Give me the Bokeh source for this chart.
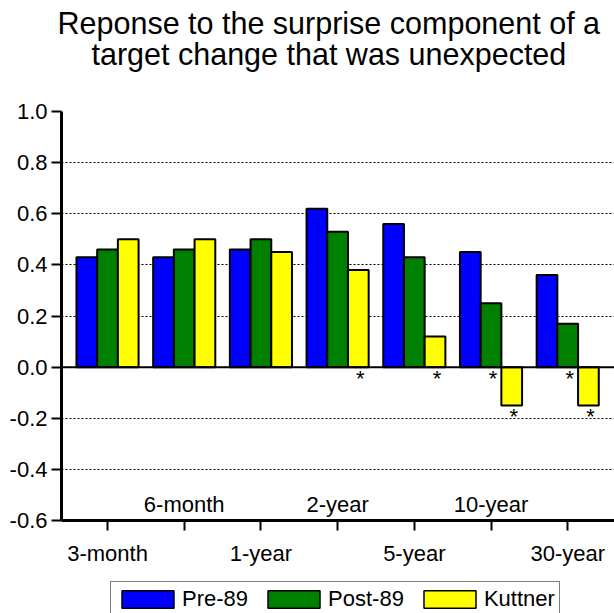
import numpy as np
from bokeh.plotting import figure
from bokeh.layouts import column
from bokeh.models import (Range1d, FixedTicker, NumeralTickFormatter, Span,
                          Legend, LegendItem, ColumnDataSource, Title)
from bokeh.core.properties import value
from bokeh.embed import file_html
from bokeh.resources import INLINE

# ---------------- data ----------------
categories = ["3-month", "6-month", "1-year", "2-year", "5-year", "10-year", "30-year"]
series = ["Pre-89", "Post-89", "Kuttner"]
pre89 = [0.43, 0.43, 0.46, 0.62, 0.56, 0.45, 0.36]
post89 = [0.46, 0.46, 0.50, 0.53, 0.43, 0.25, 0.17]
kuttner = [0.50, 0.50, 0.45, 0.38, 0.12, -0.15, -0.15]
sig_pre89 = [False, False, False, False, False, False, False]
sig_post89 = [False, False, False, False, False, True, True]
sig_kuttner = [False, False, False, True, True, True, True]
y_ticks = [-0.6, -0.4, -0.2, 0.0, 0.2, 0.4, 0.6, 0.8, 1.0]
title_lines = ["Reponse to the surprise component of a",
               "target change that was unexpected"]

# ---------------- style ----------------
FONT = "Liberation Sans"
COLORS = ["#0000FF", "#008000", "#FFFF00"]
BAR_W = 0.27
W = 614
LEFT = 61

p = figure(width=W, height=574,
           x_range=Range1d(0.4, 7.61), y_range=Range1d(y_ticks[0], y_ticks[-1]),
           output_backend="svg", toolbar_location=None,
           min_border_left=LEFT, min_border_right=0,
           min_border_top=110, min_border_bottom=54)
p.outline_line_color = None
p.background_fill_color = "white"
p.border_fill_color = "white"
p.title.text = ""

# title: spacer next to the frame, then line 2, then line 1 (outermost)
p.add_layout(Title(text=" ", text_font_size="10px", standoff=35), "above")
for line, off, so in zip(reversed(title_lines), [30, -4], [-15, 6]):
    p.add_layout(Title(text=line, align="left", text_font=FONT,
                       text_font_size="30.5px", text_font_style="normal",
                       text_color="black", offset=off, standoff=so), "above")

# grid
p.xgrid.visible = False
p.ygrid.ticker = FixedTicker(ticks=[t for t in y_ticks if t not in (y_ticks[0], 0.0, y_ticks[-1])])
p.ygrid.grid_line_color = "black"
p.ygrid.grid_line_dash = "2 2"
p.ygrid.grid_line_width = 1

# bars
x = np.arange(1, len(categories) + 1)
offsets = [-BAR_W, 0.0, BAR_W]
sources = []
for vals, off, col in zip([pre89, post89, kuttner], offsets, COLORS):
    src = ColumnDataSource(dict(x=x + off, top=vals))
    sources.append(src)
    p.vbar(x="x", top="top", bottom=0, width=BAR_W, source=src,
           fill_color=col, line_color="black", line_width=2)

p.add_layout(Span(location=0, dimension="width", line_color="black", line_width=2))

# significance asterisks
for vals, sig, off in zip([pre89, post89, kuttner], [sig_pre89, sig_post89, sig_kuttner], offsets):
    idx = [i for i in range(len(categories)) if sig[i]]
    if not idx:
        continue
    p.text(x=[x[i] + off for i in idx], y=[min(0.0, vals[i]) for i in idx],
           text=["*"] * len(idx), text_font=value(FONT), text_font_size="22px",
           text_color="black", text_align="center", text_baseline="middle",
           x_offset=2, y_offset=11)

# alternating category labels placed inside the plot
inner = [i for i in range(len(categories)) if i % 2 == 1]
p.text(x=[x[i] for i in inner], y=[y_ticks[0]] * len(inner),
       text=[categories[i] for i in inner], text_font=value(FONT),
       text_font_size="22px", text_color="black", text_align="center",
       text_baseline="alphabetic", y_offset=-16)

# axes
xa = p.xaxis[0]
xa.ticker = FixedTicker(ticks=[int(v) for v in x])
xa.major_label_overrides = {int(x[i]): (categories[i] if i % 2 == 0 else "")
                            for i in range(len(categories))}
ya = p.yaxis[0]
ya.ticker = FixedTicker(ticks=y_ticks)
ya.formatter = NumeralTickFormatter(format="0.0")
for ax, st in ((xa, 10), (ya, 4)):
    ax.axis_line_width = 3
    ax.axis_line_color = "black"
    ax.major_tick_line_width = 2
    ax.major_tick_line_color = "black"
    ax.major_tick_out = 10
    ax.major_tick_in = 0
    ax.minor_tick_line_color = None
    ax.major_label_text_font = FONT
    ax.major_label_text_font_size = "22px"
    ax.major_label_text_color = "black"
    ax.major_label_standoff = st

# legend strip below the chart; its key renderers share the bar sources and
# are squeezed into a sliver hidden behind the legend's white box
lg = figure(width=W, height=39, x_range=Range1d(-10, 30), y_range=Range1d(-0.5, 50),
            output_backend="svg", toolbar_location=None,
            min_border_left=LEFT, min_border_right=0, min_border_top=0, min_border_bottom=0)
lg.axis.visible = False
lg.grid.visible = False
lg.outline_line_color = None
lg.border_fill_color = "white"
keys = []
for src, col in zip(sources, COLORS):
    keys.append(lg.vbar(x="x", top="top", bottom=0, width=BAR_W, source=src,
                        fill_color=col, line_color="black", line_width=1.5))
legend = Legend(items=[LegendItem(label=s, renderers=[r]) for s, r in zip(series, keys)],
                orientation="horizontal", location=(49, -4), margin=0,
                label_text_font=FONT, label_text_font_size="22px",
                label_text_color="black",
                glyph_width=65, glyph_height=22, label_standoff=2,
                spacing=13, padding=4,
                border_line_color="black", border_line_width=1.5,
                background_fill_color="white", background_fill_alpha=1.0)
lg.add_layout(legend, "center")

open("out.html", "w").write(file_html(column(p, lg), INLINE, "chart"))
